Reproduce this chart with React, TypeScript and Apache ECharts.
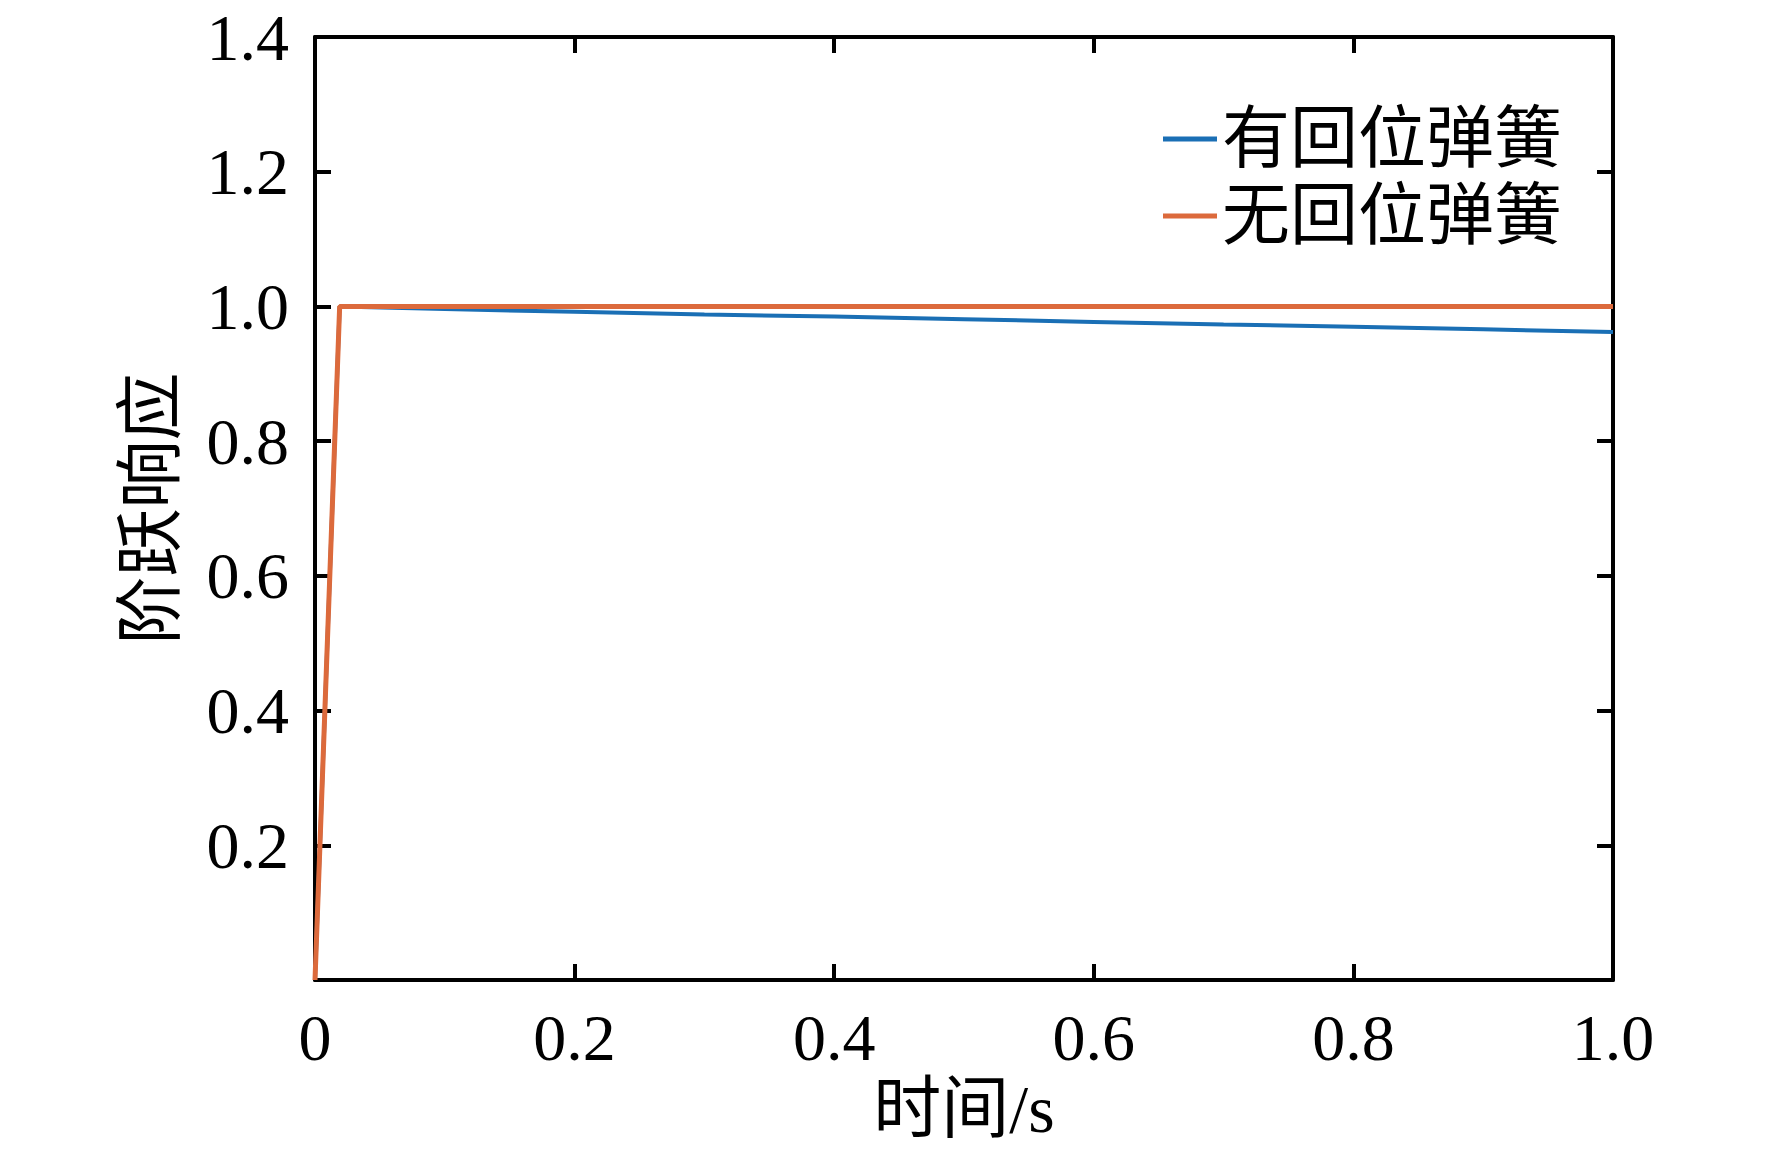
import React, { useEffect, useRef } from "react";
import * as echarts from "echarts";

const seriesNames = ["有回位弹簧", "无回位弹簧"];
const withSpringX = [0, 0.019, 0.1, 0.2, 0.3, 0.4, 0.5, 0.6, 0.7, 0.8, 0.9, 1.0];
const withSpringY = [0, 1.0, 0.996, 0.992, 0.988, 0.985, 0.981, 0.977, 0.973, 0.970, 0.966, 0.962];
const noSpringX = [0, 0.019, 0.2, 0.4, 0.6, 0.8, 1.0];
const noSpringY = [0, 1.0, 1.0, 1.0, 1.0, 1.0, 1.0];
const xAxisName = "时间/s";
const yAxisName = "阶跃响应";

const FONT = "'Liberation Serif', 'Times New Roman', 'Noto Sans CJK SC', serif";
const BLUE = "#1A6FB5";
const ORANGE = "#DC6A3C";

export default function App() {
  const ref = useRef<HTMLDivElement>(null);
  useEffect(() => {
    document.body.style.margin = "0";
    const chart = echarts.init(ref.current!, null, { renderer: "svg" });
    const axisLine = { show: true, onZero: false, lineStyle: { color: "#000", width: 4 } };
    const axisTick = { show: true, inside: true, length: 16, lineStyle: { color: "#000", width: 4 } };
    const xBase = { type: "value", min: 0, max: 1, interval: 0.2, splitLine: { show: false } };
    const yBase = { type: "value", min: 0, max: 1.4, interval: 0.2, splitLine: { show: false } };
    chart.setOption({
      animation: false,
      backgroundColor: "#fff",
      grid: { left: 315, right: 159, top: 37, bottom: 170, containLabel: false },
      legend: {
        orient: "vertical",
        left: 1158,
        top: 100,
        icon: "rect",
        itemWidth: 54,
        itemHeight: 5,
        itemGap: 9,
        textStyle: { fontFamily: FONT, fontSize: 68, lineHeight: 68, color: "#000" },
        data: seriesNames,
      },
      xAxis: [
        {
          ...xBase,
          position: "bottom",
          axisLine,
          axisTick,
          name: xAxisName,
          nameLocation: "middle",
          nameGap: 88,
          nameTextStyle: { fontFamily: FONT, fontSize: 68, color: "#000" },
          axisLabel: {
            fontFamily: FONT,
            fontSize: 66,
            color: "#000",
            margin: 24,
            formatter: (v: number) => (v === 0 ? "0" : v.toFixed(1)),
          },
        },
        { ...xBase, position: "top", axisLine, axisTick, axisLabel: { show: false } },
      ],
      yAxis: [
        {
          ...yBase,
          position: "left",
          axisLine,
          axisTick,
          name: yAxisName,
          nameLocation: "middle",
          nameGap: 130,
          nameTextStyle: { fontFamily: FONT, fontSize: 68, color: "#000" },
          axisLabel: {
            fontFamily: FONT,
            fontSize: 66,
            color: "#000",
            margin: 26,
            formatter: (v: number) => (v === 0 ? "" : v.toFixed(1)),
          },
        },
        { ...yBase, position: "right", axisLine, axisTick, axisLabel: { show: false } },
      ],
      series: [
        {
          name: seriesNames[0],
          type: "line",
          showSymbol: false,
          symbol: "none",
          color: BLUE,
          lineStyle: { color: BLUE, width: 4 },
          data: withSpringX.map((x, i) => [x, withSpringY[i]]),
          z: 2,
        },
        {
          name: seriesNames[1],
          type: "line",
          showSymbol: false,
          symbol: "none",
          color: ORANGE,
          lineStyle: { color: ORANGE, width: 5 },
          data: noSpringX.map((x, i) => [x, noSpringY[i]]),
          z: 3,
        },
      ],
    });
    return () => chart.dispose();
  }, []);
  return <div ref={ref} style={{ width: 1772, height: 1150 }} />;
}
